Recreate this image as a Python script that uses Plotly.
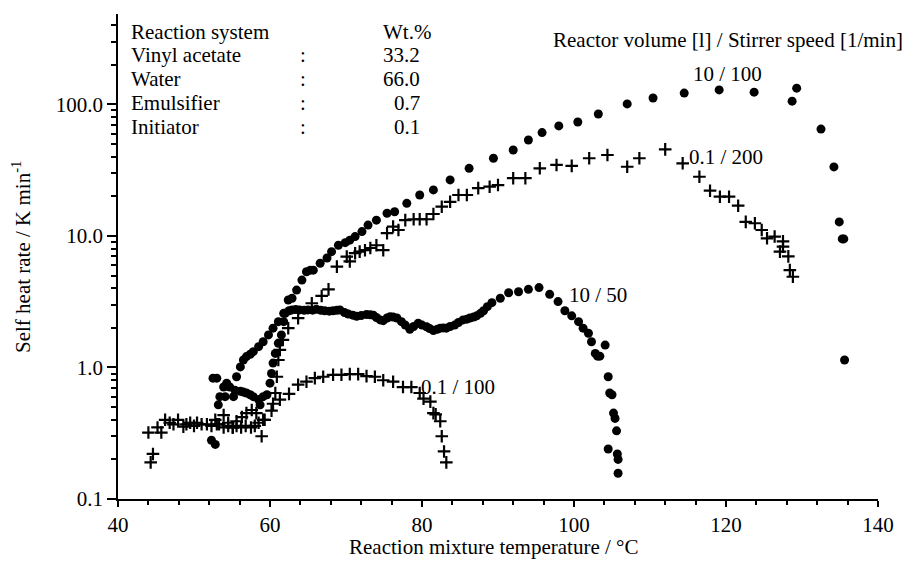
import plotly.graph_objects as go

# ---- data ----
# 10 l / 100 rpm (circles)
t_10_100 = [52.5, 53.0, 55.6, 56.1, 56.5, 56.9, 57.4, 57.8, 58.5, 59.1, 59.8, 60.4, 61.1, 61.8, 62.4, 62.9,
            63.5, 64.2, 64.8, 65.3, 65.7, 66.6, 67.5, 68.1, 69.0, 69.9, 70.5, 71.2, 72.1, 72.9,
            74.0, 75.4, 76.4, 78.0, 79.7, 81.5, 83.7, 86.2, 89.4, 92.0, 94.0, 95.8, 98.0,
            100.5, 103.2, 107.0, 110.4, 114.5, 119.1, 123.7, 128.7, 129.3, 132.5, 134.2, 134.9,
            135.3, 135.5, 135.6]
r_10_100 = [0.83, 0.83, 0.85, 1.01, 1.14, 1.21, 1.26, 1.32, 1.44, 1.57, 1.77, 1.99, 2.23, 2.58, 3.26, 3.36,
            3.88, 4.62, 5.35, 5.5, 5.5, 6.2, 6.8, 7.6, 8.5, 8.9, 9.3, 9.9, 10.8, 12.1,
            13.2, 14.9, 15.3, 17.7, 20.5, 22.4, 26.7, 32.7, 39.0, 45.1, 53.7, 61.1, 68.7,
            73.6, 84.7, 101, 112, 122, 129, 124, 106, 133, 65, 33.5, 12.8,
            9.5, 9.5, 1.14]

# 10 l / 50 rpm (circles)
t_10_50 = [52.3, 52.8, 53.2, 53.4, 53.9, 54.1, 54.3, 54.7, 55.2, 55.4, 56.1, 56.5, 56.9, 57.4, 57.8, 58.5,
           58.7, 59.1, 59.6, 60.0, 60.2, 60.4, 60.7, 61.1, 61.5, 61.8, 62.0, 62.5, 62.9, 63.4, 63.9,
           64.5, 65.0, 65.6, 66.1, 66.7, 67.2, 67.8, 68.3, 68.8, 69.2, 69.8, 70.3, 70.9, 71.4, 72.0,
           72.7, 73.2, 73.6, 74.0, 74.5, 74.9, 75.4, 75.8, 76.2, 76.7, 77.3, 77.8, 78.4, 78.9,
           79.5, 80.0, 80.6, 81.0, 81.5, 82.0, 82.4, 82.8, 83.2, 83.7, 84.3, 84.8, 85.4, 85.9,
           86.3, 86.8, 87.2, 87.7, 88.1, 88.6, 89.2, 90.3, 91.4, 92.7, 94.0, 95.4, 96.8, 97.9,
           98.8, 99.7, 100.6, 101.2, 101.9, 102.3, 102.8, 103.1, 103.4, 104.1, 104.5, 104.7,
           105.0, 105.2, 105.4, 105.6, 104.5, 105.7, 105.8, 105.8]
r_10_50 = [0.28, 0.26, 0.52, 0.60, 0.71, 0.60, 0.76, 0.71, 0.60, 0.67, 0.66, 0.65, 0.64, 0.62, 0.60, 0.57,
           0.52, 0.60, 0.62, 0.76, 0.90, 1.08, 1.28, 1.53, 1.77, 2.23, 2.58, 2.70, 2.74, 2.76, 2.74,
           2.72, 2.74, 2.73, 2.77, 2.72, 2.70, 2.68, 2.70, 2.72, 2.74, 2.62, 2.55, 2.50, 2.45, 2.48,
           2.53, 2.52, 2.50, 2.40, 2.30, 2.27, 2.38, 2.43, 2.42, 2.38, 2.23, 2.10, 1.95, 2.05,
           2.17, 2.10, 2.04, 1.98, 1.91, 1.95, 1.99, 2.00, 1.99, 2.05, 2.10, 2.20, 2.30, 2.33,
           2.38, 2.42, 2.47, 2.58, 2.70, 2.90, 3.11, 3.36, 3.70, 3.77, 3.93, 4.05, 3.60, 3.17,
           2.70, 2.47, 2.23, 1.99, 1.82, 1.57, 1.28, 1.22, 1.22, 1.48, 0.85, 0.64,
           0.62, 0.45, 0.41, 0.33, 0.24, 0.22, 0.20, 0.157]

# 0.1 l / 200 rpm (crosses)
t_01_200 = [52.8, 53.3, 53.9, 54.5, 55.1, 55.6, 56.3, 56.9, 57.6, 58.2, 58.9, 59.1, 60.4, 60.7, 60.9,
            61.1, 61.3, 61.7, 62.4, 63.7, 65.5, 66.8, 67.7, 68.8, 70.1, 70.5, 71.2, 71.8, 72.5, 73.2,
            74.0, 74.9, 75.4, 76.2, 76.9, 77.8, 78.9, 79.7, 80.6, 81.5, 82.6, 83.7, 84.8, 85.9,
            87.4, 88.9, 90.0, 92.0, 93.6, 95.5, 97.7, 99.7, 102.0, 104.4, 107.0, 108.6, 112.0,
            114.3, 116.5, 117.9, 119.2, 120.4, 121.6, 122.6, 123.8, 124.7, 125.4, 126.4, 127.5,
            127.1, 128.2, 127.5, 128.4, 128.8]
r_01_200 = [0.40, 0.37, 0.435, 0.38, 0.35, 0.39, 0.42, 0.45, 0.475, 0.45, 0.30, 0.40, 0.53, 0.64, 0.85,
            1.14, 1.36, 1.62, 1.99, 2.37, 3.08, 3.5, 3.93, 5.85, 6.97, 6.4, 7.4, 7.6, 7.8, 8.1,
            8.5, 7.8, 10.5, 11.8, 11.1, 13.2, 13.4, 13.4, 13.4, 14.7, 16.7, 18.2, 20.5, 20.5,
            23.1, 23.7, 24.4, 27.5, 27.5, 32.7, 34.7, 34.1, 39.0, 41.3, 33.6, 39.0, 45.6,
            35.7, 28.2, 22.1, 19.9, 19.9, 17.0, 12.8, 12.5, 11.1, 9.6, 9.9, 9.1,
            7.6, 7.0, 8.3, 5.5, 4.9]

# 0.1 l / 100 rpm (crosses)
t_01_100 = [44.0, 44.3, 44.6, 45.2, 45.7, 46.2, 46.8, 47.3, 47.9, 48.6, 49.0, 49.5, 50.0, 50.4, 51.0,
            51.7, 52.3, 53.0, 53.9, 54.5, 55.1, 55.6, 56.2, 56.8, 57.5, 58.0, 58.5, 59.3, 60.2,
            61.3, 62.5, 63.7, 64.8, 65.9, 67.0, 68.3, 69.4, 70.5, 71.6, 72.7, 73.8, 74.9, 76.2,
            77.5, 78.6, 79.7, 80.2, 81.1, 81.5, 81.8, 82.4, 82.6, 82.9, 83.2]
r_01_100 = [0.32, 0.19, 0.22, 0.35, 0.32, 0.40, 0.38, 0.37, 0.40, 0.355, 0.37, 0.38, 0.36, 0.38, 0.37,
            0.37, 0.36, 0.37, 0.35, 0.36, 0.35, 0.36, 0.35, 0.36, 0.35, 0.36, 0.38, 0.40, 0.47,
            0.57, 0.63, 0.74, 0.78, 0.83, 0.85, 0.88, 0.88, 0.89, 0.89, 0.86, 0.85, 0.80, 0.78,
            0.71, 0.71, 0.64, 0.58, 0.55, 0.45, 0.44, 0.39, 0.30, 0.23, 0.19]

y_tick_vals = [0.1, 1, 10, 100]
y_tick_text = ["0.1", "1.0", "10.0", "100.0"]

composition_names = ["Reaction system", "Vinyl acetate", "Water", "Emulsifier", "Initiator"]
composition_values = ["Wt.%", "33.2", "66.0", "0.7", "0.1"]

series_labels = ["10 / 100", "0.1 / 200", "10 / 50", "0.1 / 100"]

FONT = "Liberation Serif, Times New Roman, serif"
FS = 21
fig = go.Figure()

circle = dict(symbol="circle", size=9, color="black")
cross = dict(symbol="cross-thin", size=9, color="black", line=dict(width=2.2, color="black"))

fig.add_trace(go.Scatter(x=t_10_100, y=r_10_100, mode="markers", marker=circle, name="10 / 100"))
fig.add_trace(go.Scatter(x=t_10_50, y=r_10_50, mode="markers", marker=circle, name="10 / 50"))
fig.add_trace(go.Scatter(x=t_01_200, y=r_01_200, mode="markers", marker=cross, name="0.1 / 200"))
fig.add_trace(go.Scatter(x=t_01_100, y=r_01_100, mode="markers", marker=cross, name="0.1 / 100"))

minor_y = [k * 10 ** e for e in (-1, 0, 1, 2) for k in range(2, 10) if k * 10 ** e <= 500]

L, R, T, B = 118, 32, 14, 62
W, H = 910, 561
pw, ph = W - L - R, H - T - B


def px(x):
    return (x - L) / pw


def py(y):
    return (H - B - y) / ph


annotations = []
row_y = [32, 55, 79, 103, 127]
for i, (name, val) in enumerate(zip(composition_names, composition_values)):
    annotations.append(dict(x=px(129), y=py(row_y[i]), text=name, xanchor="left", yanchor="middle",
                            showarrow=False, xref="paper", yref="paper"))
    annotations.append(dict(x=px(422) if i > 0 else px(433), y=py(row_y[i]), text=val, xanchor="right",
                            yanchor="middle", showarrow=False, xref="paper", yref="paper"))
    if i > 0:
        annotations.append(dict(x=px(303), y=py(row_y[i]), text=":", xanchor="center", yanchor="middle",
                                showarrow=False, xref="paper", yref="paper"))

annotations.append(dict(x=px(905), y=py(40), text="Reactor volume [l] / Stirrer speed [1/min]",
                        xanchor="right", yanchor="middle", showarrow=False, xref="paper", yref="paper"))

label_pos = [(px(727), py(74), "center"), (px(687), py(157), "left"),
             (px(567), py(295), "left"), (px(419), py(387), "left")]
for (x, y, anc), txt in zip(label_pos, series_labels):
    annotations.append(dict(x=x, y=y, text=txt, xanchor=anc, yanchor="middle", showarrow=False,
                            xref="paper", yref="paper"))

annotations.append(dict(x=px(493), y=py(547), text="Reaction mixture temperature / °C", xanchor="center",
                        yanchor="middle", showarrow=False, xref="paper", yref="paper"))
annotations.append(dict(x=px(21), y=py(257), text="Self heat rate / K min<sup>-1</sup>", textangle=-90,
                        xanchor="center", yanchor="middle", showarrow=False, xref="paper", yref="paper"))

fig.update_layout(
    width=W, height=H,
    margin=dict(l=L, r=R, t=T, b=B, pad=0),
    paper_bgcolor="white", plot_bgcolor="white",
    showlegend=False,
    font=dict(family=FONT, size=FS, color="black"),
    annotations=annotations,
    xaxis=dict(range=[40, 140], tick0=40, dtick=20, ticks="outside", ticklen=6, tickwidth=1.5,
               tickcolor="black", showline=True, linecolor="black", linewidth=1.5, showgrid=False,
               zeroline=False, tickfont=dict(family=FONT, size=FS, color="black"),
               minor=dict(dtick=4, tick0=40, ticks="outside", ticklen=4, tickwidth=1.5, tickcolor="black",
                          showgrid=False)),
    yaxis=dict(type="log", range=[-1, 2.688], tickvals=y_tick_vals, ticktext=y_tick_text,
               ticks="outside", ticklen=9, tickwidth=1.5, tickcolor="black", showline=True,
               linecolor="black", linewidth=1.5, showgrid=False, zeroline=False,
               tickfont=dict(family=FONT, size=FS, color="black"),
               minor=dict(tickvals=minor_y, ticks="outside", ticklen=5, tickwidth=1.5, tickcolor="black",
                          showgrid=False)),
)

fig.write_html("out.html")
